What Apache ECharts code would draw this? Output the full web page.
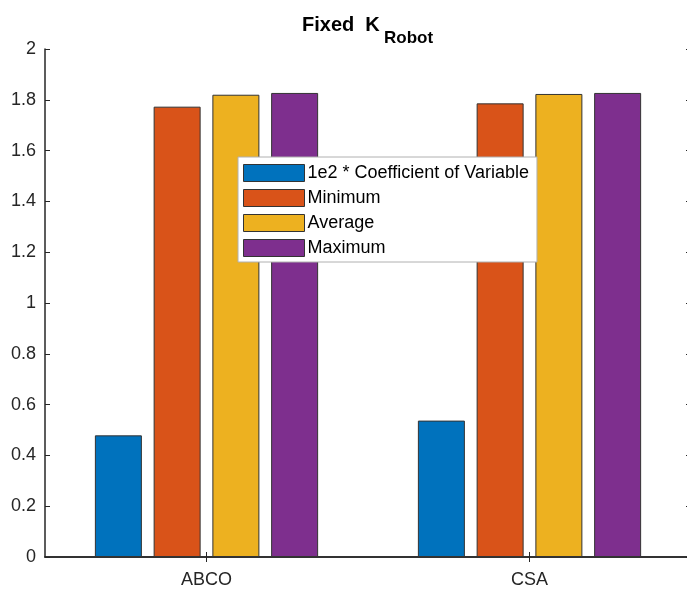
<!DOCTYPE html>
<html>
<head>
<meta charset="utf-8">
<script src="https://cdn.jsdelivr.net/npm/echarts@6/dist/echarts.min.js"></script>
<style>html,body{margin:0;padding:0;background:#fff;overflow:hidden;width:687px;height:589px}#c{width:700px;height:589px}</style>
</head>
<body>
<div id="c"></div>
<script>
const categories = ['ABCO', 'CSA'];
const seriesNames = ['1e2 * Coefficient of Variable', 'Minimum', 'Average', 'Maximum'];
const coefVar = [0.479, 0.537];
const minimum = [1.773, 1.786];
const average = [1.820, 1.823];
const maximum = [1.827, 1.827];
const colors = ['#0072BD', '#D95319', '#EDB120', '#7E2F8E'];

const FONT = '"Liberation Sans", Arial, sans-serif';
const chart = echarts.init(document.getElementById('c'));
const values = [coefVar, minimum, average, maximum];
const axisLine = {show: true, lineStyle: {color: '#262626', width: 1.5}};
const tickIn = {show: true, inside: true, length: 5, lineStyle: {color: '#262626', width: 1}};

chart.setOption({
  animation: false,
  backgroundColor: '#fff',
  color: colors,
  title: [
    {text: 'Fixed  K', left: 302, top: 15, padding: 0,
     textStyle: {fontFamily: FONT, fontSize: 20, fontWeight: 'bold', color: '#000', lineHeight: 20}},
    {text: 'Robot', left: 384, top: 30, padding: 0,
     textStyle: {fontFamily: FONT, fontSize: 17, fontWeight: 'bold', color: '#000', lineHeight: 17}}
  ],
  legend: {
    orient: 'vertical',
    left: 238, top: 157,
    data: seriesNames,
    icon: 'rect',
    itemWidth: 61, itemHeight: 17, itemGap: 7,
    padding: [7, 8, 5, 5],
    backgroundColor: '#fff',
    borderColor: '#b0b0b0', borderWidth: 1,
    textStyle: {fontFamily: FONT, fontSize: 18, lineHeight: 17, color: '#000', padding: [0, 0, 0, -2]},
    itemStyle: {borderColor: '#333', borderWidth: 1}
  },
  grid: {left: 45, top: 49, width: 646, height: 511, containLabel: false},
  xAxis: [
    {type: 'category', data: categories, position: 'bottom', boundaryGap: true,
     axisLine: axisLine, axisTick: Object.assign({alignWithLabel: true}, tickIn),
     axisLabel: {fontFamily: FONT, fontSize: 18, color: '#262626', margin: 14},
     splitLine: {show: false}},
    {type: 'category', data: categories, position: 'top', boundaryGap: true,
     axisLine: axisLine, axisTick: Object.assign({alignWithLabel: true}, tickIn),
     axisLabel: {show: false}, splitLine: {show: false}}
  ],
  yAxis: [
    {type: 'value', min: 0, max: 2, interval: 0.2, position: 'left',
     axisLine: axisLine, axisTick: tickIn,
     axisLabel: {fontFamily: FONT, fontSize: 18, color: '#262626', margin: 9,
       formatter: v => String(parseFloat(v.toFixed(1)))},
     splitLine: {show: false}},
    {type: 'value', min: 0, max: 2, interval: 0.2, position: 'right',
     axisLine: axisLine, axisTick: tickIn, axisLabel: {show: false}, splitLine: {show: false}}
  ],
  series: seriesNames.map((n, i) => ({
    name: n, type: 'bar', data: values[i],
    xAxisIndex: 0, yAxisIndex: 0,
    barWidth: 47, barGap: '25%',
    itemStyle: {color: colors[i], borderColor: '#333', borderWidth: 1}
  }))
});
</script>
</body>
</html>
